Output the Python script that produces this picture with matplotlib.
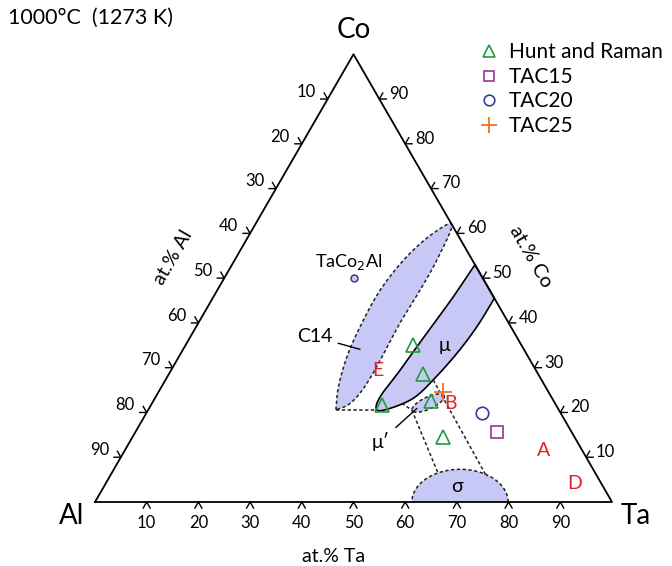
import numpy as np
import matplotlib
matplotlib.use("Agg")
import matplotlib.pyplot as plt

plt.rcParams['font.family'] = ['Lato', 'DejaVu Sans']

# --- data (compositions in at.% Ta, at.% Co) ---
tick_values = [10, 20, 30, 40, 50, 60, 70, 80, 90]

hunt_ta = [44.0, 49.1, 44.6, 53.6, 60.1]
hunt_co = [35.1, 28.5, 21.7, 22.6, 14.5]
tac15_ta, tac15_co = [70.0], [15.6]
tac20_ta, tac20_co = [65.0], [19.8]
tac25_ta, tac25_co = [55.1], [24.5]
taco2al_ta, taco2al_co = [25.0], [50.0]

letters = ['E', 'B', 'A', 'D']
letters_ta = [40.1, 57.8, 80.9, 90.7]
letters_co = [29.3, 22.0, 11.6, 4.2]

# C14 lens outline (closed loop, starts and ends at lower tip)
c14_ta = [36.3, 34.2, 32.5, 31.7, 31.5, 32.9, 35.4, 38.1,
          39.1, 39.2, 39.0, 39.4, 39.1, 38.1, 36.3]
c14_co = [20.6, 25.8, 32.5, 39.2, 47.4, 54.8, 60.0, 61.9,
          54.1, 47.4, 39.9, 29.5, 24.3, 21.7, 20.6]

# mu region outline (from upper-left point on Ta-Co edge round the tip)
mu_ta = [47.0, 46.4, 45.3, 44.3, 43.4, 44.2, 46.6, 50.0, 51.8, 53.4, 54.3, 54.5]
mu_co = [53.0, 45.9, 37.7, 29.5, 23.5, 20.6, 20.9, 23.2, 27.3, 33.2, 39.2, 45.5]

# mu' ellipse: centre, semi axes (in at.%), tilt
mup_ta, mup_co = 53.4, 22.1
mup_a, mup_b, mup_angle = 3.4, 1.15, 25

# sigma dome on Al-Ta edge
sigma_ta_lo, sigma_ta_hi, sigma_co_peak = 61.3, 79.9, 7.3

# tie lines (pairs of compositions)
tie_ta = [(36.3, 44.2), (48.3, 51.0), (51.0, 63.0), (51.8, 73.0)]
tie_co = [(20.6, 20.6), (22.05, 20.55), (20.55, 6.6), (27.25, 5.6)]

SQ = np.sqrt(3) / 2


def tern(ta, co):
    ta = np.asarray(ta, dtype=float)
    co = np.asarray(co, dtype=float)
    return ta + co / 2, co * SQ


def smooth(xs, ys, n=16):
    pts = np.column_stack([xs, ys])
    P = np.vstack([pts[0], pts, pts[-1]])
    out = []
    t = np.linspace(0, 1, n, endpoint=False)[:, None]
    for i in range(1, len(P) - 2):
        p0, p1, p2, p3 = P[i - 1], P[i], P[i + 1], P[i + 2]
        out.append(0.5 * (2 * p1 + (-p0 + p2) * t
                          + (2 * p0 - 5 * p1 + 4 * p2 - p3) * t ** 2
                          + (-p0 + 3 * p1 - 3 * p2 + p3) * t ** 3))
    out.append(pts[-1][None])
    out = np.vstack(out)
    return out[:, 0], out[:, 1]


fill_col = '#c8c8f6'
dash = (0, (2.2, 1.6))

fig = plt.figure(figsize=(6.72, 5.66), dpi=100)
ax = fig.add_axes([0, 0, 1, 1])
ax.set_xlim(-95 / 5.17, 577 / 5.17)
ax.set_ylim(-64 / 5.17, 502 / 5.17)
ax.axis('off')

# regions
x, y = tern(c14_ta, c14_co)
sx, sy = smooth(x, y)
ax.fill(sx, sy, color=fill_col, lw=0, zorder=1)
ax.plot(sx, sy, color='#222222', lw=1.1, ls=dash, zorder=2)

x, y = tern(mu_ta, mu_co)
sx, sy = smooth(x, y)
ax.fill(sx, sy, color=fill_col, lw=0, zorder=1)
ax.plot(np.append(sx, sx[0]), np.append(sy, sy[0]), color='black', lw=1.2, zorder=2)

cx, cy = tern(mup_ta, mup_co)
th = np.linspace(0, 2 * np.pi, 100)
ang = np.radians(mup_angle)
ex = cx + mup_a * np.cos(th) * np.cos(ang) - mup_b * np.sin(th) * np.sin(ang)
ey = cy + mup_a * np.cos(th) * np.sin(ang) + mup_b * np.sin(th) * np.cos(ang)
ax.fill(ex, ey, color=fill_col, lw=0, zorder=1)
ax.plot(ex, ey, color='#222222', lw=1.1, ls=dash, zorder=2)

th = np.linspace(0, np.pi, 80)
mid = (sigma_ta_lo + sigma_ta_hi) / 2
half = (sigma_ta_hi - sigma_ta_lo) / 2
gx = mid + half * np.cos(th)
gy = sigma_co_peak * SQ * np.sin(th)
ax.fill(gx, gy, color=fill_col, lw=0, zorder=1)
ax.plot(gx, gy, color='#222222', lw=1.1, ls=dash, zorder=2)

for tt, cc in zip(tie_ta, tie_co):
    x, y = tern(tt, cc)
    ax.plot(x, y, color='#222222', lw=1.1, ls=dash, zorder=2)

# triangle frame
fx, fy = tern([0, 100, 0, 0], [0, 0, 100, 0])
ax.plot(fx, fy, color='black', lw=1.3, zorder=3)

# ticks
L = 1.35
tk = dict(color='black', lw=1.0, zorder=3)
fs_tick = 12
for v in tick_values:
    px, py = tern(v, 0)
    d1, d2 = np.radians(240), np.radians(300)
    ax.plot([px + L * np.cos(d1), px, px + L * np.cos(d2)],
            [py + L * np.sin(d1), py, py + L * np.sin(d2)], **tk)
    ax.text(px, py - 4.0, str(v), ha='center', va='center', fontsize=fs_tick)

    px, py = tern(0, 100 - v)
    d1, d2 = np.radians(120), np.radians(180)
    ax.plot([px + L * np.cos(d1), px, px + L * np.cos(d2)],
            [py + L * np.sin(d1), py, py + L * np.sin(d2)], **tk)
    ax.text(px - 2.3, py + 1.4, str(v), ha='right', va='center', fontsize=fs_tick)

    px, py = tern(100 - v, v)
    d1, d2 = np.radians(0), np.radians(60)
    ax.plot([px + L * np.cos(d1), px, px + L * np.cos(d2)],
            [py + L * np.sin(d1), py, py + L * np.sin(d2)], **tk)
    ax.text(px + 1.9, py + 1.0, str(v), ha='left', va='center', fontsize=fs_tick)

# corner labels and axis titles
ax.text(50, 100 * SQ + 4.6, 'Co', ha='center', va='center', fontsize=20)
ax.text(-4.6, -2.7, 'Al', ha='center', va='center', fontsize=20)
ax.text(104.6, -2.7, 'Ta', ha='center', va='center', fontsize=20)
ax.text(46.2, -10.6, 'at.% Ta', ha='center', va='center', fontsize=14)
ax.text(15.1, 47.4, 'at.% Al', ha='center', va='center', fontsize=14, rotation=60)
ax.text(84.2, 47.4, 'at.% Co', ha='center', va='center', fontsize=14.5, rotation=-60)
ax.text(-16.8, 93.6, '1000°C  (1273 K)', ha='left', va='center', fontsize=15.5)

# data points
x, y = tern(hunt_ta, hunt_co)
ax.plot(x, y, '^', ms=10, mfc='none', mec='#1e9b3c', mew=1.2, ls='none',
        label='Hunt and Raman', zorder=4)
x, y = tern(tac15_ta, tac15_co)
ax.plot(x, y, 's', ms=9, mfc='none', mec='#97358f', mew=1.2, ls='none',
        label='TAC15', zorder=4)
x, y = tern(tac20_ta, tac20_co)
ax.plot(x, y, 'o', ms=9, mfc='none', mec='#3b3b93', mew=1.2, ls='none',
        label='TAC20', zorder=4)
x, y = tern(tac25_ta, tac25_co)
ax.plot(x, y, '+', ms=13, mec='#f0731e', mew=1.3, ls='none',
        label='TAC25', zorder=4)
x, y = tern(taco2al_ta, taco2al_co)
ax.plot(x, y, 'o', ms=5, mfc=fill_col, mec='#333366', mew=1.0, zorder=4)

for s, t, c in zip(letters, letters_ta, letters_co):
    x, y = tern(t, c)
    ax.text(x, y, s, color='#e0202a', ha='center', va='center', fontsize=14, zorder=5)

# region labels
x, y = tern(22.3, 53.6)
ax.text(x, y, 'TaCo$_2$Al', ha='center', va='center', fontsize=13,
        math_fontfamily='dejavusans')
x, y = tern(50.0, 35.0)
ax.text(x, y, 'μ', ha='center', va='center', fontsize=14)
x, y = tern(68.3, 3.4)
ax.text(x, y, 'σ', ha='center', va='center', fontsize=14)

tx, ty = tern(24.1, 36.9)
px, py = tern(34.2, 34.1)
ax.annotate('C14', xy=(px, py), xytext=(tx, ty), ha='center', va='center',
            fontsize=14, arrowprops=dict(arrowstyle='-', lw=1.0, color='black',
                                         shrinkA=2, shrinkB=0))
tx, ty = tern(48.5, 13.6)
px, py = tern(51.8, 20.9)
ax.annotate('μ′', xy=(px, py), xytext=(tx, ty), ha='center', va='center',
            fontsize=14, arrowprops=dict(arrowstyle='-', lw=1.0, color='black',
                                         shrinkA=3, shrinkB=0))

ax.legend(loc='upper left', bbox_to_anchor=(0.697, 0.94), frameon=False,
          fontsize=15, handletextpad=0.35, labelspacing=0.22, handlelength=1.2,
          borderaxespad=0, markerscale=0.85)

fig.savefig('out.png', dpi=100)
